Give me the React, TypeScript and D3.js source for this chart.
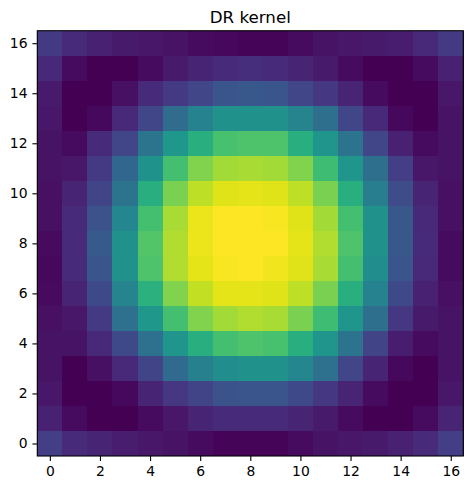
import { useEffect, useRef } from "react";
import * as d3 from "d3";

// kernel values, row 0 = bottom of the image
const row0 = [0.18, 0.12, 0.10, 0.08, 0.06, 0.05, 0.03, 0.01, 0.01, 0.01, 0.03, 0.05, 0.06, 0.07, 0.09, 0.12, 0.18];
const row1 = [0.09, 0.03, 0.00, 0.00, 0.03, 0.06, 0.10, 0.12, 0.12, 0.12, 0.10, 0.07, 0.03, 0.00, 0.00, 0.03, 0.10];
const row2 = [0.06, 0.00, 0.00, 0.02, 0.10, 0.16, 0.20, 0.25, 0.26, 0.26, 0.22, 0.16, 0.10, 0.03, 0.00, 0.00, 0.06];
const row3 = [0.05, 0.00, 0.04, 0.11, 0.20, 0.34, 0.43, 0.49, 0.50, 0.50, 0.46, 0.37, 0.21, 0.10, 0.02, 0.00, 0.05];
const row4 = [0.05, 0.05, 0.11, 0.22, 0.37, 0.52, 0.63, 0.70, 0.72, 0.71, 0.63, 0.52, 0.38, 0.20, 0.08, 0.03, 0.05];
const row5 = [0.04, 0.06, 0.17, 0.37, 0.53, 0.70, 0.81, 0.86, 0.88, 0.87, 0.80, 0.69, 0.52, 0.36, 0.16, 0.07, 0.05];
const row6 = [0.03, 0.10, 0.22, 0.45, 0.64, 0.81, 0.91, 0.96, 0.96, 0.95, 0.90, 0.80, 0.63, 0.44, 0.22, 0.09, 0.04];
const row7 = [0.02, 0.12, 0.26, 0.50, 0.72, 0.88, 0.96, 0.99, 1.00, 0.98, 0.95, 0.87, 0.70, 0.49, 0.26, 0.11, 0.03];
const row8 = [0.03, 0.12, 0.28, 0.50, 0.73, 0.88, 0.97, 1.00, 1.00, 1.00, 0.96, 0.88, 0.72, 0.50, 0.27, 0.12, 0.03];
const row9 = [0.04, 0.12, 0.25, 0.46, 0.70, 0.87, 0.97, 1.00, 1.00, 0.99, 0.95, 0.86, 0.70, 0.50, 0.27, 0.11, 0.04];
const row10 = [0.04, 0.10, 0.20, 0.38, 0.63, 0.80, 0.90, 0.95, 0.96, 0.95, 0.90, 0.80, 0.63, 0.42, 0.23, 0.10, 0.04];
const row11 = [0.05, 0.06, 0.17, 0.33, 0.51, 0.70, 0.81, 0.86, 0.87, 0.86, 0.81, 0.69, 0.52, 0.36, 0.18, 0.06, 0.05];
const row12 = [0.05, 0.03, 0.12, 0.21, 0.38, 0.53, 0.63, 0.71, 0.72, 0.72, 0.63, 0.52, 0.38, 0.21, 0.09, 0.03, 0.05];
const row13 = [0.06, 0.00, 0.02, 0.11, 0.21, 0.35, 0.44, 0.50, 0.50, 0.50, 0.45, 0.36, 0.21, 0.11, 0.02, 0.00, 0.05];
const row14 = [0.07, 0.00, 0.00, 0.04, 0.12, 0.17, 0.21, 0.26, 0.27, 0.26, 0.21, 0.16, 0.10, 0.03, 0.00, 0.00, 0.06];
const row15 = [0.11, 0.03, 0.00, 0.00, 0.03, 0.07, 0.10, 0.12, 0.13, 0.12, 0.10, 0.07, 0.03, 0.00, 0.00, 0.03, 0.09];
const row16 = [0.17, 0.12, 0.09, 0.07, 0.06, 0.05, 0.03, 0.02, 0.01, 0.01, 0.03, 0.05, 0.06, 0.07, 0.08, 0.11, 0.17];

const rows = [row0, row1, row2, row3, row4, row5, row6, row7, row8, row9, row10, row11, row12, row13, row14, row15, row16];
const xTicks = [0, 2, 4, 6, 8, 10, 12, 14, 16];
const yTicks = [0, 2, 4, 6, 8, 10, 12, 14, 16];
const title = "DR kernel";

export default function App() {
  const ref = useRef<SVGSVGElement>(null);

  useEffect(() => {
    const W = 473, H = 490;
    const margin = { top: 30.7, right: 9.7, bottom: 34, left: 37.3 };
    const svg = d3.select(ref.current);
    svg.selectAll("*").remove();

    const n = rows.length;
    const x = d3.scaleLinear().domain([-0.5, n - 0.5]).range([margin.left, W - margin.right]);
    const y = d3.scaleLinear().domain([-0.5, n - 0.5]).range([H - margin.bottom, margin.top]);

    const all = rows.flat();
    const color = d3.scaleSequential(d3.interpolateViridis).domain([d3.min(all)!, d3.max(all)!]);

    const cells = rows.flatMap((r, i) => r.map((v, j) => ({ i, j, v })));

    svg.append("g")
      .selectAll("rect")
      .data(cells)
      .join("rect")
      .attr("x", d => x(d.j - 0.5))
      .attr("y", d => y(d.i + 0.5))
      .attr("width", d => x(d.j + 0.5) - x(d.j - 0.5) + 0.3)
      .attr("height", d => y(d.i - 0.5) - y(d.i + 0.5) + 0.3)
      .attr("fill", d => color(d.v))
      .attr("shape-rendering", "crispEdges");

    const font = "DejaVu Sans, sans-serif";

    const xAxis = svg.append("g")
      .attr("transform", `translate(0,${H - margin.bottom})`)
      .call(d3.axisBottom(x).tickValues(xTicks).tickSize(4.9).tickPadding(4.9).tickFormat(d3.format("d")));
    xAxis.select(".domain").remove();

    const yAxis = svg.append("g")
      .attr("transform", `translate(${margin.left},0)`)
      .call(d3.axisLeft(y).tickValues(yTicks).tickSize(4.9).tickPadding(4.9).tickFormat(d3.format("d")));
    yAxis.select(".domain").remove();

    [xAxis, yAxis].forEach(a => {
      a.selectAll("text").attr("font-family", font).attr("font-size", 13.9).attr("fill", "#000");
      a.selectAll("line").attr("stroke", "#000").attr("stroke-width", 1.1);
    });

    svg.append("rect")
      .attr("x", x(-0.5))
      .attr("y", y(n - 0.5))
      .attr("width", x(n - 0.5) - x(-0.5))
      .attr("height", y(-0.5) - y(n - 0.5))
      .attr("fill", "none")
      .attr("stroke", "#000")
      .attr("stroke-width", 1.1);

    svg.append("text")
      .attr("x", (x(-0.5) + x(n - 0.5)) / 2)
      .attr("y", 22.5)
      .attr("text-anchor", "middle")
      .attr("font-family", font)
      .attr("font-size", 16.7)
      .text(title);
  }, []);

  return (
    <svg ref={ref} width={473} height={490}
      style={{ position: "absolute", left: 0, top: 0, background: "#fff" }} />
  );
}
